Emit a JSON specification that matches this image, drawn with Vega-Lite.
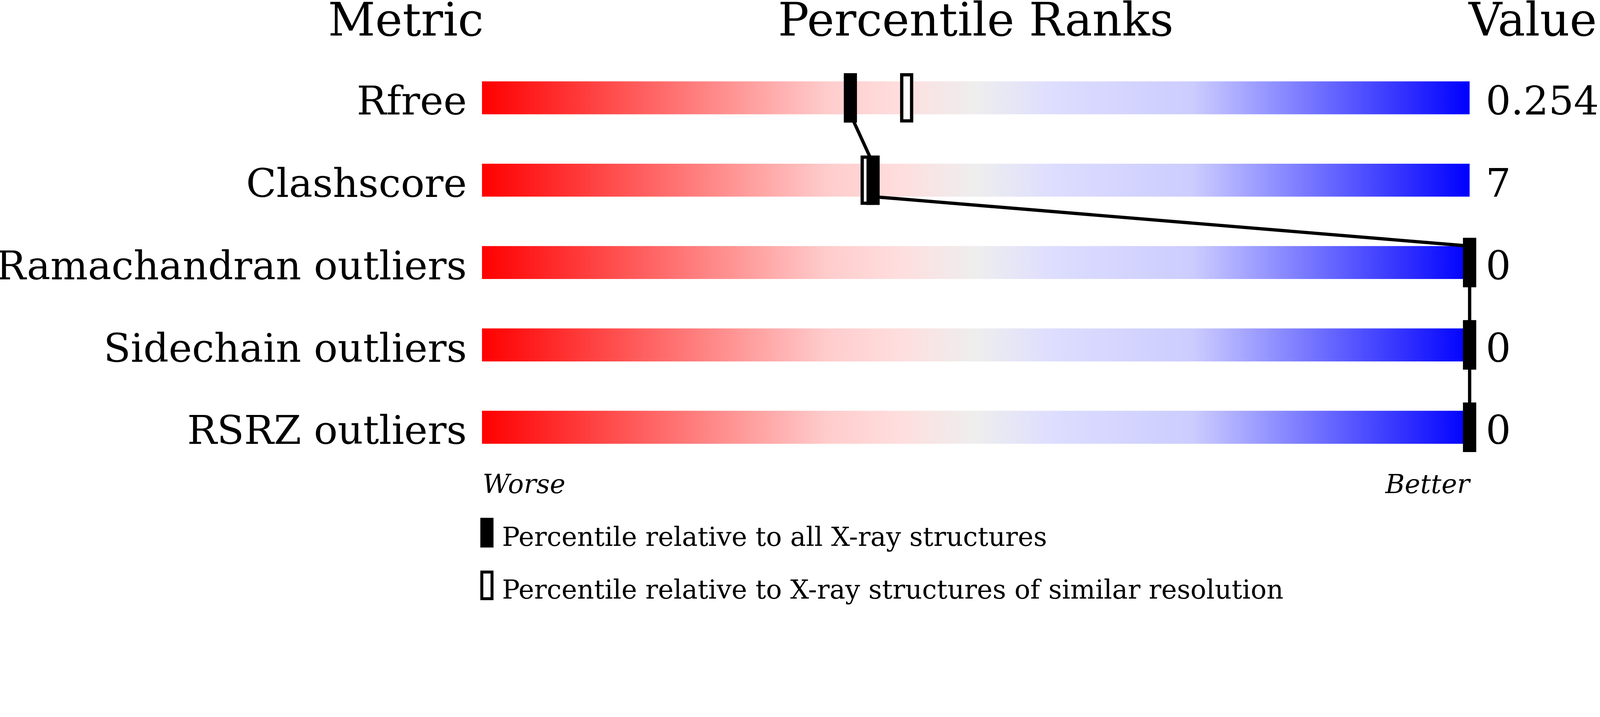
{
  "$schema": "https://vega.github.io/schema/vega-lite/v6.json",
  "width": 4096,
  "height": 1547,
  "autosize": {"type": "none"},
  "padding": 0,
  "background": "white",
  "config": {
    "view": {"stroke": null},
    "axis": {"disable": true},
    "text": {"font": "DejaVu Serif", "color": "black"}
  },
  "datasets": {
    "metrics": [
      {"metric": "Rfree", "value": "0.254", "rank": 0, "pct_all": 37.3, "pct_sim": 43.0},
      {"metric": "Clashscore", "value": "7", "rank": 1, "pct_all": 39.6, "pct_sim": 39.0},
      {"metric": "Ramachandran outliers", "value": "0", "rank": 2, "pct_all": 100, "pct_sim": 100},
      {"metric": "Sidechain outliers", "value": "0", "rank": 3, "pct_all": 100, "pct_sim": 100},
      {"metric": "RSRZ outliers", "value": "0", "rank": 4, "pct_all": 100, "pct_sim": 100}
    ]
  },
  "data": {"name": "metrics"},
  "layer": [
    {
      "mark": {
        "type": "rect",
        "yOffset": -42.2,
        "y2Offset": 42.2,
        "fill": {
          "gradient": "linear",
          "x1": 0, "y1": 0, "x2": 1, "y2": 0,
          "stops": [
            {"offset": 0, "color": "#ff0000"},
            {"offset": 0.35, "color": "#ffcccc"},
            {"offset": 0.42, "color": "#ffdddd"},
            {"offset": 0.5, "color": "#eeeeee"},
            {"offset": 0.58, "color": "#ddddff"},
            {"offset": 0.72, "color": "#ccccff"},
            {"offset": 1, "color": "#0000ff"}
          ]
        }
      },
      "encoding": {
        "x": {"datum": 0, "type": "quantitative", "scale": {"domain": [-48.8, 113.2], "nice": false, "zero": false}},
        "x2": {"datum": 100},
        "y": {"field": "rank", "type": "quantitative", "scale": {"domain": [-1.188, 6.152], "nice": false, "zero": false, "reverse": true}},
        "y2": {"field": "rank"}
      }
    },
    {
      "transform": [
        {
          "window": [
            {"op": "lead", "field": "pct_all", "as": "next_pct"},
            {"op": "lead", "field": "rank", "as": "next_rank"}
          ],
          "sort": [{"field": "rank", "order": "ascending"}]
        },
        {"filter": "datum.next_rank != null"}
      ],
      "mark": {"type": "rule", "strokeWidth": 8.4, "color": "black", "yOffset": 42.2, "y2Offset": -42.2},
      "encoding": {
        "x": {"field": "pct_all", "type": "quantitative"},
        "x2": {"field": "next_pct"},
        "y": {"field": "rank", "type": "quantitative"},
        "y2": {"field": "next_rank"}
      }
    },
    {
      "mark": {"type": "tick", "orient": "vertical", "thickness": 25.3, "size": 118, "fill": "white", "stroke": "black", "strokeWidth": 8.4, "opacity": 1},
      "encoding": {
        "x": {"field": "pct_sim", "type": "quantitative"},
        "y": {"field": "rank", "type": "quantitative"}
      }
    },
    {
      "mark": {"type": "tick", "orient": "vertical", "thickness": 33.7, "size": 126.5, "color": "black", "opacity": 1},
      "encoding": {
        "x": {"field": "pct_all", "type": "quantitative"},
        "y": {"field": "rank", "type": "quantitative"}
      }
    },
    {
      "mark": {"type": "text", "align": "right", "baseline": "alphabetic", "fontSize": 101.2, "dx": -38.8, "dy": 43},
      "encoding": {
        "text": {"field": "metric"},
        "x": {"datum": 0, "type": "quantitative"},
        "y": {"field": "rank", "type": "quantitative"}
      }
    },
    {
      "mark": {"type": "text", "align": "left", "baseline": "alphabetic", "fontSize": 101.2, "dx": 41.3, "dy": 43},
      "encoding": {
        "text": {"field": "value"},
        "x": {"datum": 100, "type": "quantitative"},
        "y": {"field": "rank", "type": "quantitative"}
      }
    },
    {
      "data": {"values": [{"t": "Metric"}]},
      "mark": {"type": "text", "align": "right", "baseline": "alphabetic", "fontSize": 118, "dx": 4.2},
      "encoding": {
        "text": {"field": "t"},
        "x": {"datum": 0, "type": "quantitative"},
        "y": {"datum": -0.758, "type": "quantitative"}
      }
    },
    {
      "data": {"values": [{"t": "Percentile Ranks"}]},
      "mark": {"type": "text", "align": "center", "baseline": "alphabetic", "fontSize": 118},
      "encoding": {
        "text": {"field": "t"},
        "x": {"datum": 50, "type": "quantitative"},
        "y": {"datum": -0.758, "type": "quantitative"}
      }
    },
    {
      "data": {"values": [{"t": "Value"}]},
      "mark": {"type": "text", "align": "left", "baseline": "alphabetic", "fontSize": 118, "dx": -2.5},
      "encoding": {
        "text": {"field": "t"},
        "x": {"datum": 100, "type": "quantitative"},
        "y": {"datum": -0.758, "type": "quantitative"}
      }
    },
    {
      "data": {"values": [{"t": "Worse"}]},
      "mark": {"type": "text", "align": "left", "baseline": "alphabetic", "fontSize": 67.4, "fontStyle": "italic", "dx": 1.7},
      "encoding": {
        "text": {"field": "t"},
        "x": {"datum": 0, "type": "quantitative"},
        "y": {"datum": 4.8, "type": "quantitative"}
      }
    },
    {
      "data": {"values": [{"t": "Better"}]},
      "mark": {"type": "text", "align": "right", "baseline": "alphabetic", "fontSize": 67.4, "fontStyle": "italic"},
      "encoding": {
        "text": {"field": "t"},
        "x": {"datum": 100, "type": "quantitative"},
        "y": {"datum": 4.8, "type": "quantitative"}
      }
    },
    {
      "data": {"values": [{"t": "all"}]},
      "mark": {"type": "tick", "orient": "vertical", "thickness": 33.7, "size": 75.9, "color": "black", "opacity": 1},
      "encoding": {
        "x": {"datum": 0.5, "type": "quantitative"},
        "y": {"datum": 5.28, "type": "quantitative"}
      }
    },
    {
      "data": {"values": [{"t": "similar"}]},
      "mark": {"type": "tick", "orient": "vertical", "thickness": 26.1, "size": 68.3, "fill": "white", "stroke": "black", "strokeWidth": 7.6, "opacity": 1},
      "encoding": {
        "x": {"datum": 0.5, "type": "quantitative"},
        "y": {"datum": 5.92, "type": "quantitative"}
      }
    },
    {
      "data": {"values": [{"t": "Percentile relative to all X-ray structures"}]},
      "mark": {"type": "text", "align": "left", "baseline": "alphabetic", "fontSize": 67.4, "dx": 51.4},
      "encoding": {
        "text": {"field": "t"},
        "x": {"datum": 0, "type": "quantitative"},
        "y": {"datum": 5.44, "type": "quantitative"}
      }
    },
    {
      "data": {"values": [{"t": "Percentile relative to X-ray structures of similar resolution"}]},
      "mark": {"type": "text", "align": "left", "baseline": "alphabetic", "fontSize": 67.4, "dx": 51.4},
      "encoding": {
        "text": {"field": "t"},
        "x": {"datum": 0, "type": "quantitative"},
        "y": {"datum": 6.08, "type": "quantitative"}
      }
    }
  ]
}
